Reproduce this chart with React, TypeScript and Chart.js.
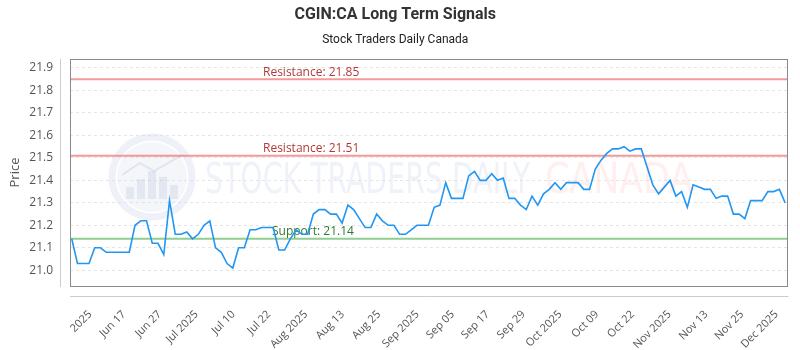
import React, { useEffect, useRef } from "react";
import { Chart, registerables } from "chart.js";

Chart.register(...registerables);

// ---- data ----
const prices: number[] = [
  21.14, 21.03, 21.03, 21.03, 21.10, 21.10, 21.08, 21.08, 21.08, 21.08,
  21.08, 21.20, 21.22, 21.22, 21.12, 21.12, 21.07, 21.31, 21.16, 21.16,
  21.17, 21.14, 21.16, 21.20, 21.22, 21.10, 21.08, 21.03, 21.01, 21.10,
  21.10, 21.18, 21.18, 21.19, 21.19, 21.19, 21.09, 21.09, 21.14, 21.18,
  21.16, 21.16, 21.25, 21.27, 21.27, 21.25, 21.25, 21.21, 21.29, 21.27,
  21.23, 21.19, 21.19, 21.25, 21.22, 21.20, 21.20, 21.16, 21.16, 21.18,
  21.20, 21.20, 21.20, 21.28, 21.29, 21.39, 21.32, 21.32, 21.32, 21.42,
  21.44, 21.40, 21.40, 21.43, 21.40, 21.41, 21.32, 21.32, 21.29, 21.27,
  21.33, 21.29, 21.34, 21.36, 21.39, 21.36, 21.39, 21.39, 21.39, 21.36,
  21.36, 21.45, 21.49, 21.52, 21.54, 21.54, 21.55, 21.53, 21.54, 21.54,
  21.46, 21.38, 21.34, 21.37, 21.40, 21.33, 21.35, 21.28, 21.38, 21.37,
  21.36, 21.36, 21.32, 21.33, 21.33, 21.25, 21.25, 21.23, 21.31, 21.31,
  21.31, 21.35, 21.35, 21.36, 21.30,
];

const tickLabels: string[] = [
  "2025", "Jun 17", "Jun 27", "Jul 2025", "Jul 10", "Jul 22", "Aug 2025",
  "Aug 13", "Aug 25", "Sep 2025", "Sep 05", "Sep 17", "Sep 29", "Oct 2025",
  "Oct 09", "Oct 22", "Nov 2025", "Nov 13", "Nov 25", "Dec 2025",
];
// position of each tick label, in data-point index units
const tickAt: number[] = [
  3.2, 9.1, 15.3, 21.7, 28.1, 34.3, 40.7, 47.1, 53.4, 60.1,
  66.2, 72.3, 78.5, 84.9, 91.3, 97.5, 103.9, 110.3, 116.5, 122.5,
];

const resistanceLevels: number[] = [21.85, 21.51];
const supportLevels: number[] = [21.14];

const titleText = "CGIN:CA Long Term Signals";
const subtitleText = "Stock Traders Daily Canada";
const yAxisTitle = "Price";

const FONT = "'Open Sans', sans-serif";

export default function App() {
  const ref = useRef<HTMLCanvasElement | null>(null);

  useEffect(() => {
    const canvas = ref.current;
    if (!canvas) return;

    const watermark = {
      id: "watermark",
      beforeDatasetsDraw(chart: any) {
        const ctx = chart.ctx as CanvasRenderingContext2D;
        const a = chart.chartArea;
        ctx.save();
        ctx.beginPath();
        ctx.rect(a.left, a.top, a.right - a.left, a.bottom - a.top);
        ctx.clip();
        // logo circle
        const cx = 152, cy = 177, r = 40;
        ctx.strokeStyle = "rgba(205,215,232,0.35)";
        ctx.lineWidth = 7;
        ctx.beginPath();
        ctx.arc(cx, cy, r, 0, Math.PI * 2);
        ctx.stroke();
        ctx.fillStyle = "rgba(205,215,232,0.22)";
        ctx.beginPath();
        ctx.arc(cx, cy, r - 5, 0, Math.PI * 2);
        ctx.fill();
        ctx.fillStyle = "rgba(190,202,225,0.32)";
        const bars = [[-22, 12], [-11, 20], [0, 28], [11, 22], [22, 14]];
        for (const [dx, h] of bars) {
          ctx.fillRect(cx + dx - 4, cy + 22 - h, 8, h);
        }
        ctx.strokeStyle = "rgba(190,202,225,0.4)";
        ctx.lineWidth = 2;
        ctx.beginPath();
        ctx.moveTo(cx - 30, cy - 2);
        ctx.lineTo(cx - 12, cy - 14);
        ctx.lineTo(cx + 2, cy - 6);
        ctx.lineTo(cx + 30, cy - 22);
        ctx.stroke();
        // words
        ctx.textBaseline = "alphabetic";
        ctx.textAlign = "left";
        ctx.font = "42px 'DejaVu Sans Condensed', 'DejaVu Sans', sans-serif";
        const t1 = "STOCK TRADERS DAILY";
        const w1 = ctx.measureText(t1).width;
        ctx.save();
        ctx.translate(205, 193);
        ctx.scale(325 / w1, 1);
        ctx.fillStyle = "rgba(214,222,238,0.38)";
        ctx.fillText(t1, 0, 0);
        ctx.restore();
        const t2 = "CANADA";
        const w2 = ctx.measureText(t2).width;
        ctx.save();
        ctx.translate(545, 193);
        ctx.scale(148 / w2, 1);
        ctx.fillStyle = "rgba(255,205,205,0.32)";
        ctx.fillText(t2, 0, 0);
        ctx.restore();
        ctx.restore();
      },
    };

    const levels = {
      id: "levels",
      beforeDatasetsDraw(chart: any) {
        const ctx = chart.ctx as CanvasRenderingContext2D;
        const a = chart.chartArea;
        const y = chart.scales.y;
        ctx.save();
        ctx.font = `12px ${FONT}`;
        ctx.textAlign = "left";
        ctx.textBaseline = "middle";
        for (const lv of resistanceLevels) {
          const py = y.getPixelForValue(lv);
          ctx.strokeStyle = "rgba(240,110,110,0.7)";
          ctx.lineWidth = 2;
          ctx.beginPath();
          ctx.moveTo(a.left, py);
          ctx.lineTo(a.right, py);
          ctx.stroke();
          ctx.fillStyle = "#b03a3a";
          ctx.fillText(`Resistance: ${lv.toFixed(2)}`, 263, py - 7);
        }
        for (const lv of supportLevels) {
          const py = y.getPixelForValue(lv);
          ctx.strokeStyle = "rgba(110,190,110,0.75)";
          ctx.lineWidth = 2;
          ctx.beginPath();
          ctx.moveTo(a.left, py);
          ctx.lineTo(a.right, py);
          ctx.stroke();
          ctx.fillStyle = "#2f7a2f";
          ctx.fillText(`Support: ${lv.toFixed(2)}`, 272, py - 7);
        }
        ctx.restore();
      },
    };

    const frame = {
      id: "frame",
      afterDraw(chart: any) {
        const ctx = chart.ctx as CanvasRenderingContext2D;
        const a = chart.chartArea;
        ctx.save();
        ctx.strokeStyle = "#8a8a8a";
        ctx.lineWidth = 1;
        ctx.strokeRect(Math.round(a.left) + 0.5, Math.round(a.top) + 0.5,
          Math.round(a.right - a.left), Math.round(a.bottom - a.top));
        ctx.strokeStyle = "#cccccc";
        ctx.beginPath();
        ctx.moveTo(Math.round(a.left) - 9.5, a.top);
        ctx.lineTo(Math.round(a.left) - 9.5, a.bottom + 1);
        ctx.moveTo(a.left, Math.round(a.bottom) + 10.5);
        ctx.lineTo(a.right + 1, Math.round(a.bottom) + 10.5);
        ctx.stroke();
        ctx.restore();
      },
    };

    const chart = new Chart(canvas, {
      type: "line",
      data: {
        datasets: [
          {
            data: prices.map((p, i) => ({ x: i, y: p })),
            borderColor: "#2196f3",
            borderWidth: 1.6,
            pointRadius: 0,
            tension: 0,
            fill: false,
          },
        ],
      },
      options: {
        animation: false,
        responsive: false,
        maintainAspectRatio: false,
        layout: { padding: { left: 0, right: 9.5, top: 0, bottom: 0 } },
        plugins: {
          legend: { display: false },
          tooltip: { enabled: false },
          title: {
            display: true,
            text: titleText,
            color: "#333333",
            font: { family: "Roboto, sans-serif", size: 16, weight: "bold" },
            padding: { top: 5, bottom: 8.6 },
          },
          subtitle: {
            display: true,
            text: subtitleText,
            color: "#222222",
            font: { family: "Roboto, sans-serif", size: 12, weight: "normal" },
            padding: { top: 0, bottom: 11.8 },
          },
        },
        scales: {
          x: {
            type: "linear",
            min: -0.3,
            max: 124.4,
            grid: { display: false },
            border: { display: false },
            afterBuildTicks: (s: any) => {
              s.ticks = tickAt.map((v) => ({ value: v }));
            },
            afterFit: (s: any) => {
              s.height = 64;
            },
            ticks: {
              autoSkip: false,
              minRotation: 45,
              maxRotation: 45,
              padding: 14,
              color: "#555555",
              font: { family: FONT, size: 11 },
              callback: (_v: any, i: number) => tickLabels[i],
            },
          },
          y: {
            min: 20.93,
            max: 21.94,
            grid: { color: "rgba(0,0,0,0.1)", drawTicks: false },
            border: { display: false, dash: [3, 3] },
            afterFit: (s: any) => {
              s.width = 70;
            },
            ticks: {
              stepSize: 0.1,
              includeBounds: false,
              padding: 17,
              color: "#555555",
              font: { family: FONT, size: 12 },
              callback: (v: any) => Number(v).toFixed(1),
            },
            title: {
              display: true,
              text: yAxisTitle,
              color: "#555555",
              font: { family: FONT, size: 13 },
              padding: { top: 7, bottom: 0 },
            },
          },
        },
      },
      plugins: [watermark, levels, frame],
    } as any);

    return () => chart.destroy();
  }, []);

  return (
    <div style={{ position: "absolute", left: 0, top: 0, width: 800, height: 350 }}>
      <canvas ref={ref} width={800} height={350} style={{ display: "block", width: 800, height: 350 }} />
    </div>
  );
}
